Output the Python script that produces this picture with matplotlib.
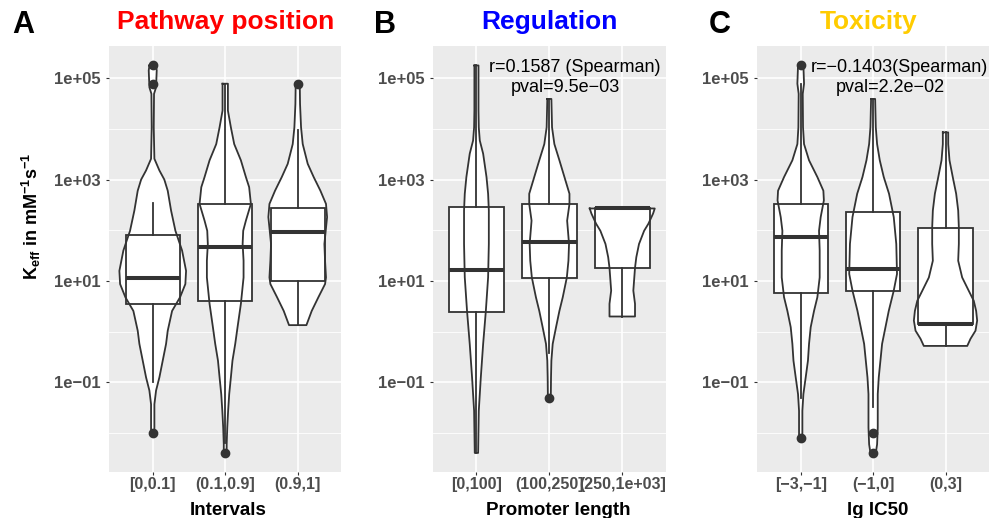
import numpy as np
import matplotlib
matplotlib.use('Agg')
import matplotlib.pyplot as plt
from matplotlib.patches import PathPatch
from matplotlib.ticker import NullFormatter

plt.rcParams['font.family'] = ['Liberation Sans', 'DejaVu Sans']
plt.rcParams['mathtext.fontset'] = 'custom'
plt.rcParams['mathtext.rm'] = 'Liberation Sans'
plt.rcParams['mathtext.bf'] = 'Liberation Sans:bold'
plt.rcParams['mathtext.it'] = 'Liberation Sans:italic'

# --- data (log10 of K_eff) ---
# panel A: pathway position
labels_A = ['[0,0.1]', '(0.1,0.9]', '(0.9,1]']
q1_A = [0.54, 0.60, 1.00]
med_A = [1.06, 1.68, 1.96]
q3_A = [1.91, 2.51, 2.43]
lo_A = [-0.99, -2.20, 0.13]
hi_A = [2.53, 4.89, 3.98]
out_A = [[5.25, 4.89, -1.99], [-2.39], [4.89]]
# violin outlines: log10 value, half width (in category units)
vy_A1 = [5.25, 5.15, 4.82, 4.69, 4.03, 3.41, 3.18, 3.00, 2.78, 2.39, 1.99, 1.60, 1.20, 0.94, 0.68, 0.41, 0.02, -0.24, -0.57, -0.90, -1.16, -1.43, -1.99]
vw_A1 = [0.046, 0.055, 0.046, 0.018, 0.014, 0.023, 0.092, 0.16, 0.207, 0.253, 0.313, 0.405, 0.46, 0.45, 0.377, 0.267, 0.207, 0.184, 0.138, 0.092, 0.046, 0.023, 0.023]
vy_A2 = [4.89, 4.36, 4.03, 3.70, 3.38, 3.05, 2.85, 2.52, 2.19, 1.99, 1.73, 1.40, 1.07, 0.55, 0.09, -0.24, -0.57, -0.90, -1.23, -1.56, -1.89, -2.22, -2.39]
vw_A2 = [0.037, 0.037, 0.078, 0.124, 0.216, 0.285, 0.33, 0.354, 0.285, 0.248, 0.24, 0.253, 0.253, 0.216, 0.17, 0.138, 0.10, 0.078, 0.055, 0.04, 0.028, 0.02, 0.02]
vy_A3 = [4.89, 4.49, 4.03, 3.70, 3.31, 3.05, 2.78, 2.52, 2.26, 1.99, 1.73, 1.40, 1.07, 0.94, 0.68, 0.41, 0.13]
vw_A3 = [0.028, 0.032, 0.046, 0.069, 0.138, 0.22, 0.313, 0.39, 0.405, 0.386, 0.368, 0.377, 0.39, 0.377, 0.285, 0.193, 0.12]

# panel B: promoter length
labels_B = ['[0,100]', '(100,250]', '(250,1e+03]']
q1_B = [0.38, 1.05, 1.26]
med_B = [1.22, 1.77, 2.43]
q3_B = [2.45, 2.51, 2.43]
lo_B = [-2.39, -0.42, 0.30]
hi_B = [5.25, 4.59, 2.43]
out_B = [[], [-1.30], []]
vy_B1 = [5.25, 4.36, 4.03, 3.77, 3.51, 3.05, 2.72, 2.39, 1.73, 1.07, 0.41, -0.24, -0.90, -1.56, -2.39]
vw_B1 = [0.028, 0.028, 0.032, 0.046, 0.092, 0.138, 0.16, 0.17, 0.17, 0.16, 0.129, 0.092, 0.06, 0.032, 0.023]
vy_B2 = [4.59, 4.03, 3.70, 3.38, 3.05, 2.72, 2.52, 2.19, 1.73, 1.40, 1.07, 0.68, 0.41, 0.09, -0.24, -0.57, -0.90, -1.30]
vw_B2 = [0.028, 0.037, 0.069, 0.138, 0.207, 0.276, 0.276, 0.244, 0.27, 0.262, 0.24, 0.184, 0.138, 0.092, 0.046, 0.028, 0.023, 0.02]
vy_B3 = [2.43, 2.33, 2.13, 1.99, 1.73, 1.47, 1.26, 0.81, 0.55, 0.30]
vw_B3 = [0.446, 0.423, 0.359, 0.30, 0.23, 0.193, 0.175, 0.152, 0.175, 0.175]

# panel C: toxicity
labels_C = ['[\u22123,\u22121]', '(\u22121,0]', '(0,3]']
q1_C = [0.77, 0.80, 0.15]
med_C = [1.87, 1.24, 0.15]
q3_C = [2.51, 2.37, 2.05]
lo_C = [-1.31, -1.49, -0.28]
hi_C = [4.89, 4.59, 3.93]
out_C = [[5.25, -2.09], [-1.99, -2.39], []]
vy_C1 = [5.25, 4.89, 4.69, 4.03, 3.70, 3.38, 3.05, 2.78, 2.59, 2.26, 1.99, 1.60, 1.07, 0.68, 0.41, 0.09, -0.24, -0.57, -0.90, -1.23, -1.56, -2.09]
vw_C1 = [0.037, 0.046, 0.028, 0.032, 0.046, 0.115, 0.23, 0.313, 0.32, 0.276, 0.253, 0.262, 0.262, 0.23, 0.184, 0.138, 0.115, 0.10, 0.069, 0.037, 0.023, 0.023]
vy_C2 = [4.59, 4.03, 3.70, 3.38, 3.05, 2.72, 2.26, 1.73, 1.14, 0.81, 0.41, -0.24, -0.90, -1.23, -1.89, -2.22, -2.39]
vw_C2 = [0.028, 0.037, 0.055, 0.092, 0.147, 0.22, 0.285, 0.32, 0.33, 0.285, 0.216, 0.124, 0.078, 0.064, 0.064, 0.055, 0.037]
vy_C3 = [3.93, 3.70, 3.38, 3.05, 2.72, 2.39, 2.06, 1.73, 1.40, 1.07, 0.81, 0.61, 0.41, 0.22, 0.02, -0.14, -0.28]
vw_C3 = [0.037, 0.037, 0.055, 0.10, 0.147, 0.175, 0.184, 0.184, 0.175, 0.23, 0.32, 0.39, 0.423, 0.437, 0.414, 0.345, 0.30]

dark = '#333333'
grey = '#4D4D4D'


def draw_panel(ax, violins, q1, med, q3, lo, hi, outl, labels):
    ax.set_yscale('log')
    # violins: white fill underneath, outline on top
    for i, (vy, vw) in enumerate(violins):
        y = 10.0 ** np.array(vy)
        w = np.array(vw)
        xs = np.concatenate([i - w, (i + w)[::-1]])
        ys = np.concatenate([y, y[::-1]])
        ax.fill(xs, ys, fc='white', ec='none', zorder=2)
        ax.plot(np.append(xs, xs[0]), np.append(ys, ys[0]), color=dark, lw=1.3, zorder=3)
    stats = []
    for k in range(3):
        stats.append(dict(q1=10 ** q1[k], med=10 ** med[k], q3=10 ** q3[k],
                          whislo=10 ** lo[k], whishi=10 ** hi[k],
                          fliers=10.0 ** np.array(outl[k])))
    bp = ax.bxp(stats, positions=[0, 1, 2], widths=0.75, patch_artist=True, showcaps=False,
                boxprops=dict(facecolor='none', edgecolor=dark, lw=1.3),
                whiskerprops=dict(color=dark, lw=1.3),
                medianprops=dict(color=dark, lw=2.9, solid_capstyle='butt'),
                flierprops=dict(marker='o', markerfacecolor=dark, markeredgecolor=dark, markersize=6),
                zorder=3)
    for b in bp['boxes']:
        ax.add_patch(PathPatch(b.get_path(), fc='white', ec='none', zorder=2))

    ax.set_facecolor('#EBEBEB')
    for s in ax.spines.values():
        s.set_visible(False)
    ax.set_xlim(-0.6, 2.6)
    ax.set_ylim(10 ** -2.76, 10 ** 5.64)
    ax.set_xticks([0, 1, 2])
    ax.set_xticklabels(labels, fontsize=11.5, fontweight='bold', color=grey)
    ax.set_yticks([1e-1, 1e1, 1e3, 1e5])
    ax.set_yticklabels(['1e\u221201', '1e+01', '1e+03', '1e+05'], fontsize=12, fontweight='bold', color=grey)
    ax.set_yticks([1e-2, 1e0, 1e2, 1e4], minor=True)
    ax.yaxis.set_minor_formatter(NullFormatter())
    ax.tick_params(which='major', length=2.5, color=dark, width=0.8)
    ax.tick_params(axis='y', pad=3.5)
    ax.tick_params(axis='x', pad=1.5)
    ax.tick_params(which='minor', length=0)
    ax.set_axisbelow(True)
    ax.grid(which='major', color='white', lw=1.2)
    ax.grid(which='minor', axis='y', color='white', lw=0.6)


fig = plt.figure(figsize=(10.03, 5.18), dpi=100)
axA = fig.add_axes([0.1089, 0.0894, 0.2313, 0.8224])
axB = fig.add_axes([0.4314, 0.0894, 0.2326, 0.8224])
axC = fig.add_axes([0.7550, 0.0894, 0.2310, 0.8224])

draw_panel(axA, [(vy_A1, vw_A1), (vy_A2, vw_A2), (vy_A3, vw_A3)], q1_A, med_A, q3_A, lo_A, hi_A, out_A, labels_A)
draw_panel(axB, [(vy_B1, vw_B1), (vy_B2, vw_B2), (vy_B3, vw_B3)], q1_B, med_B, q3_B, lo_B, hi_B, out_B, labels_B)
draw_panel(axC, [(vy_C1, vw_C1), (vy_C2, vw_C2), (vy_C3, vw_C3)], q1_C, med_C, q3_C, lo_C, hi_C, out_C, labels_C)

# correlation notes
axB.text(1.343, 10 ** 5.12, 'r=0.1587 (Spearman)', fontsize=13, ha='center', va='baseline', zorder=6)
axB.text(1.227, 10 ** 4.73, 'pval=9.5e\u221203', fontsize=13, ha='center', va='baseline', zorder=6)
axC.text(1.358, 10 ** 5.12, 'r=\u22120.1403(Spearman)', fontsize=13, ha='center', va='baseline', zorder=6)
axC.text(1.232, 10 ** 4.72, 'pval=2.2e\u221202', fontsize=13, ha='center', va='baseline', zorder=6)

# panel letters and titles
W, H = 1003.0, 518.0
for x, t in [(12, 'A'), (374, 'B'), (709, 'C')]:
    fig.text(x / W, 1 - 33.3 / H, t, fontsize=22, fontweight='bold', ha='left', va='baseline')
for x, t, c in [(225.2, 'Pathway position', '#FF0000'), (549.4, 'Regulation', '#0000FF'), (869, 'Toxicity', '#FFCC00')]:
    fig.text(x / W, 1 - 29.5 / H, t, fontsize=19, fontweight='bold', color=c, ha='center', va='baseline')

# axis titles
for x, t in [(228.5, 'Intervals'), (558.5, 'Promoter length'), (878, 'lg IC50')]:
    fig.text(x / W, 1 - 515 / H, t, fontsize=13.5, fontweight='bold', ha='center', va='baseline')
fig.text(31 / W, 1 - 216 / H, r'$\mathbf{K_{eff}\ in\ mM^{-1}s^{-1}}$', fontsize=13, rotation=90,
         ha='center', va='center')

fig.savefig('out.png', dpi=100)
